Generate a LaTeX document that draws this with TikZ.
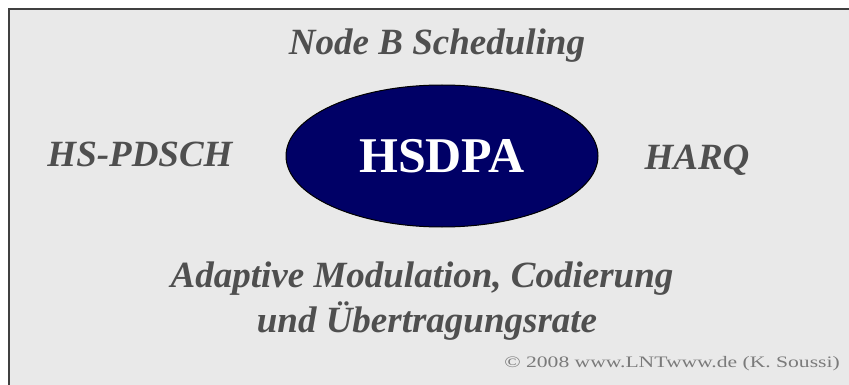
\documentclass[tikz,border=0pt]{standalone}
\usepackage{fontspec}
\setmainfont{Liberation Serif}
\usepackage{graphicx}
\usepackage{tikz}
\usetikzlibrary{shapes.geometric}
\definecolor{panelgray}{HTML}{E9E9E9}
\definecolor{labelgray}{HTML}{4F4F4F}
\definecolor{creditgray}{HTML}{7A7A7A}
\definecolor{hubnavy}{HTML}{000066}

\begin{document}
\begin{tikzpicture}[x=1pt,y=-1pt,
  topic/.style={font=\fontsize{37}{40}\selectfont\bfseries\itshape,text=labelgray,inner sep=0pt,anchor=base},
  hub/.style={ellipse,draw=black,line width=1pt,fill=hubnavy,text=white,
    minimum width=312pt,minimum height=142pt,inner sep=0pt,
    font=\fontsize{50}{54}\selectfont\bfseries},
  credit/.style={font=\fontsize{16}{18}\selectfont,text=creditgray,inner sep=0pt,anchor=base east}]
  % ---------------- panel ----------------
  \useasboundingbox (0,0) rectangle (849,385);
  \clip (0,0) rectangle (849,385);
  \fill[white] (0,0) rectangle (849,385);
  \draw[fill=panelgray,draw=black!75,line width=2pt] (9,9) rectangle (870,400);
  % ---------------- centre ----------------
  \node[hub] (hsdpa) at (442,156) {HSDPA};
  % ---------------- features ----------------
  \node[topic] (sched) at (437,55) {Node B Scheduling};
  \node[topic] (pdsch) at (140,167) {HS-PDSCH};
  \node[topic] (harq) at (697,169) {HARQ};
  \node[topic] (amc) at (422,287) {Adaptive Modulation, Codierung};
  \node[topic] (rate) at (427,332) {und Übertragungsrate};
  % ---------------- credit ----------------
  \node[credit] (copy) at (840,367) {\scalebox{1.35}[1]{© 2008 www.LNTwww.de (K. Soussi)}};
\end{tikzpicture}
\end{document}
